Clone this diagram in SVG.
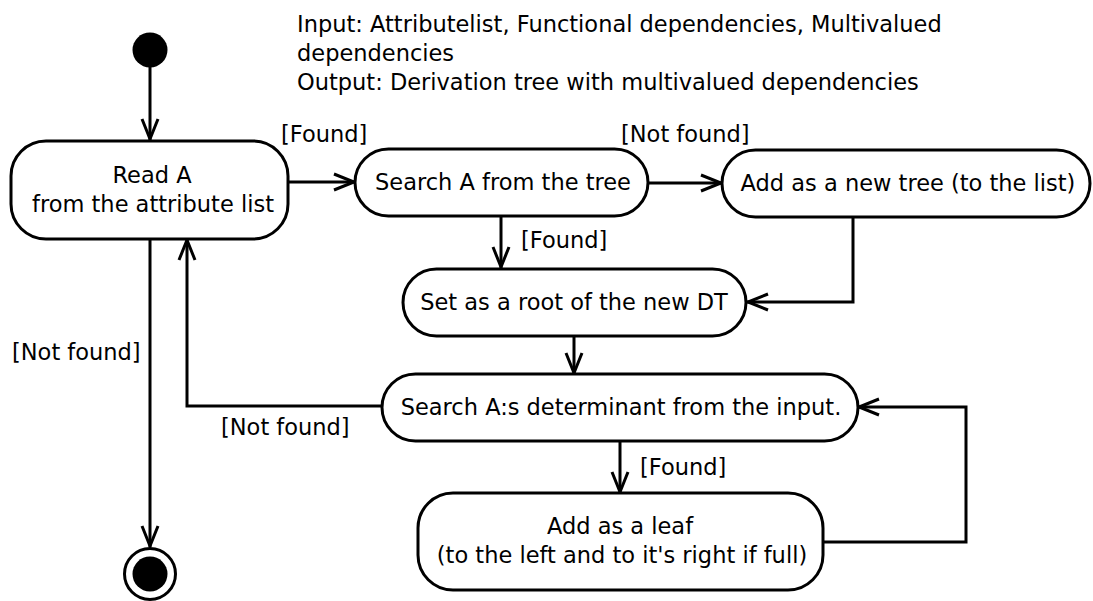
<svg xmlns="http://www.w3.org/2000/svg" width="1093" height="601" viewBox="0 0 1093 601">
  <style>
    .node { fill: #fff; stroke: #000; stroke-width: 3; }
    .lbl { font-family: "DejaVu Sans", "Liberation Sans", sans-serif; font-size: 22.5px; fill: #000; }
    .mid { text-anchor: middle; }
    .edge { fill: none; stroke: #000; stroke-width: 3; marker-end: url(#arr); }
  </style>
  <defs>
    <!-- open V arrowhead -->
    <marker id="arr" markerUnits="userSpaceOnUse" markerWidth="30" markerHeight="30" refX="0" refY="0" orient="auto" overflow="visible">
      <path d="M -21 -8 L -1 0 L -21 8" fill="none" stroke="#000" stroke-width="3"/>
    </marker>
  </defs>

  <rect width="1093" height="601" fill="#fff"/>

  <!-- input / output note -->
  <g id="note">
    <text class="lbl" x="297" y="32">Input: Attributelist, Functional dependencies, Multivalued</text>
    <text class="lbl" x="297" y="61">dependencies</text>
    <text class="lbl" x="297" y="90">Output: Derivation tree with multivalued dependencies</text>
  </g>

  <!-- connectors -->
  <g id="connectors">
    <path class="edge" d="M 150 67 L 150 140"/>
    <path class="edge" d="M 288 182 L 355 182"/>
    <path class="edge" d="M 648 183 L 722 183"/>
    <path class="edge" d="M 501 216 L 501 268"/>
    <path class="edge" d="M 853 217 L 853 302 L 747 302"/>
    <path class="edge" d="M 574 336 L 574 374"/>
    <path class="edge" d="M 382 406 L 187 406 L 187 239"/>
    <path class="edge" d="M 150 239 L 150 547"/>
    <path class="edge" d="M 620 441 L 620 493"/>
    <path class="edge" d="M 823 542 L 966 542 L 966 407 L 858 407"/>
  </g>

  <!-- guard labels -->
  <g id="labels">
    <text class="lbl" x="281" y="142">[Found]</text>
    <text class="lbl" x="621" y="142">[Not found]</text>
    <text class="lbl" x="521" y="248">[Found]</text>
    <text class="lbl" x="12" y="360">[Not found]</text>
    <text class="lbl" x="221" y="435">[Not found]</text>
    <text class="lbl" x="640" y="475">[Found]</text>
  </g>

  <g id="start">
    <circle cx="150" cy="50" r="17.5" fill="#000"/>
  </g>

  <g id="end">
    <circle cx="150" cy="574" r="25.5" fill="#fff" stroke="#000" stroke-width="3"/>
    <circle cx="150" cy="574" r="17.5" fill="#000"/>
  </g>

  <g id="read-a">
    <rect class="node" x="11" y="141" width="277" height="98" rx="35" ry="35"/>
    <text class="lbl mid" x="152" y="183">Read A</text>
    <text class="lbl mid" x="153" y="212">from the attribute list</text>
  </g>

  <g id="search-tree">
    <rect class="node" x="355" y="149" width="293" height="67" rx="33.5" ry="33.5"/>
    <text class="lbl mid" x="503" y="190">Search A from the tree</text>
  </g>

  <g id="add-tree">
    <rect class="node" x="722" y="150" width="368" height="67" rx="33.5" ry="33.5"/>
    <text class="lbl mid" x="908" y="191">Add as a new tree (to the list)</text>
  </g>

  <g id="set-root">
    <rect class="node" x="403" y="269" width="343" height="67" rx="33.5" ry="33.5"/>
    <text class="lbl mid" x="574" y="310">Set as a root of the new DT</text>
  </g>

  <g id="search-determinant">
    <rect class="node" x="382" y="374" width="476" height="67" rx="33.5" ry="33.5"/>
    <text class="lbl mid" x="621" y="415">Search A:s determinant from the input.</text>
  </g>

  <g id="add-leaf">
    <rect class="node" x="418" y="493" width="405" height="97" rx="35" ry="35"/>
    <text class="lbl mid" x="620" y="534">Add as a leaf</text>
    <text class="lbl mid" x="622" y="563">(to the left and to it's right if full)</text>
  </g>
</svg>
